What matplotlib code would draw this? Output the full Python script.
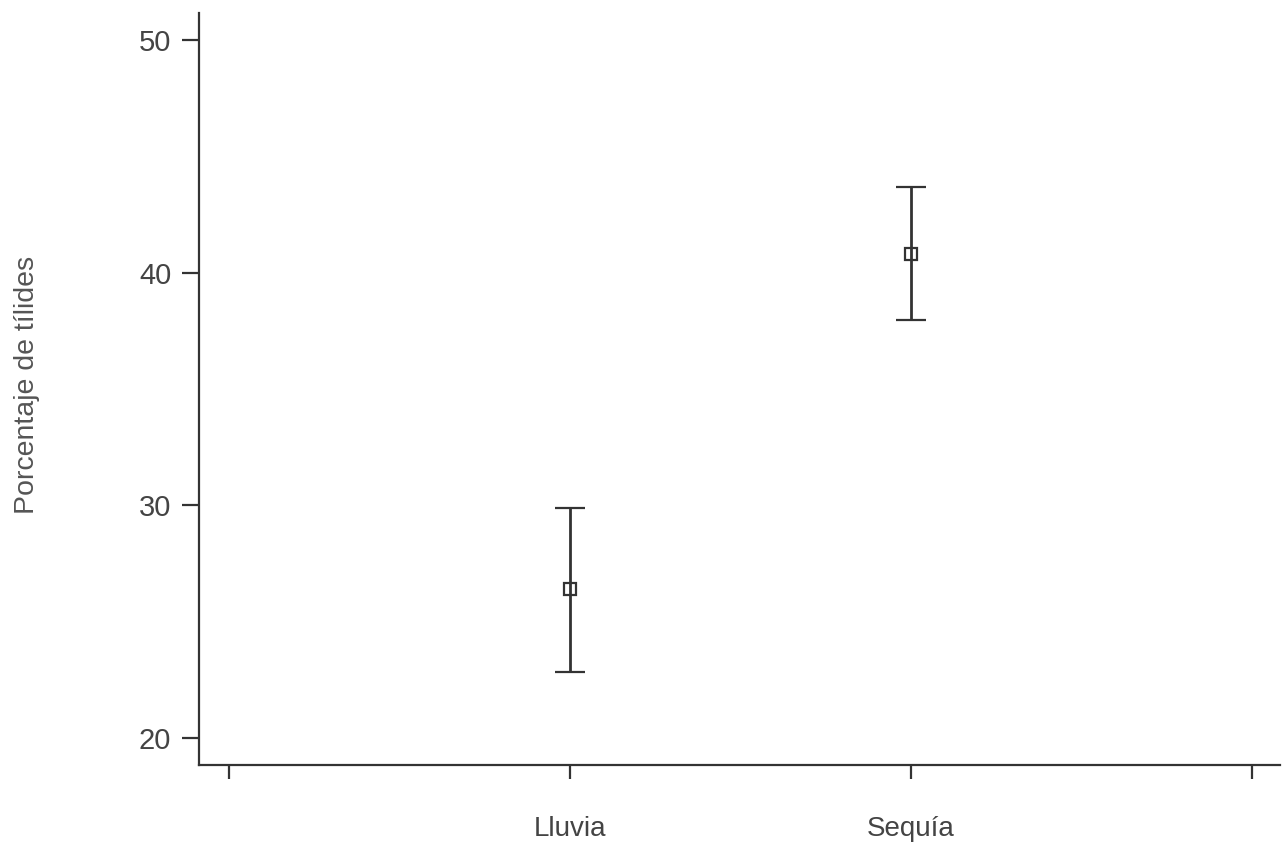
import matplotlib
matplotlib.use("Agg")
import matplotlib.pyplot as plt

# ====================== DATA ======================
GROUPS = ["Lluvia", "Sequía"]
GROUP_POS = [1, 2]
MEANS = [26.4, 40.8]
LOWER = [22.85, 37.95]
UPPER = [29.9, 43.7]
TICK_POS = [0, 1, 2, 3]
TICK_LABELS = ["", "Lluvia", "Sequía", ""]
Y_TICKS = [20, 30, 40, 50]
# ==================================================

plt.rcParams['font.family'] = ['Liberation Sans', 'DejaVu Sans']
INK = "#333333"
TEXT = "#444444"

fig = plt.figure(figsize=(12.84, 8.46), dpi=100)
ax = fig.add_axes([0.155, 0.0957, 0.842, 0.8889])

err_lo = [m - lo for m, lo in zip(MEANS, LOWER)]
err_hi = [hi - m for m, hi in zip(MEANS, UPPER)]
ax.errorbar(GROUP_POS, MEANS, yerr=[err_lo, err_hi], fmt='s', color=INK,
            mfc='none', mec=INK, ms=8, mew=1.6, elinewidth=2, capsize=11,
            capthick=2)

ax.set_xlim(-0.088, 3.082)
ax.set_ylim(18.84, 51.16)
ax.set_xticks(TICK_POS)
ax.set_xticklabels(TICK_LABELS)
ax.set_yticks(Y_TICKS)

for side in ['top', 'right']:
    ax.spines[side].set_visible(False)
for side in ['left', 'bottom']:
    ax.spines[side].set_linewidth(1.6)
    ax.spines[side].set_color(INK)

ax.tick_params(axis='y', length=12, width=1.6, color=INK, pad=8,
               labelsize=21, labelcolor=TEXT)
ax.tick_params(axis='x', length=10, width=1.6, color=INK, pad=27,
               labelsize=20, labelcolor=TEXT)

ax.set_ylabel("Porcentaje de tílides", fontsize=20.5, color="#555555")
ax.yaxis.set_label_coords(-0.147, 0.505)

fig.savefig("out.png", dpi=100, facecolor="white")
